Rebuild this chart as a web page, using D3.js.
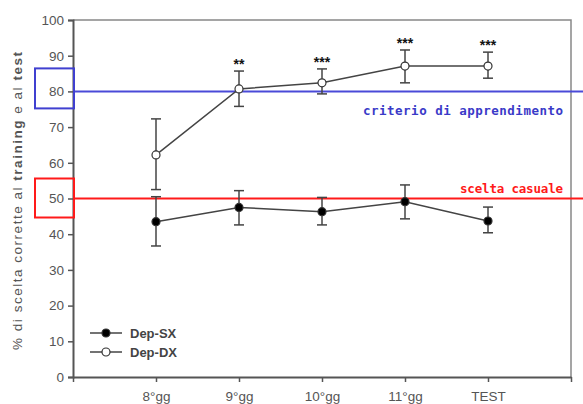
<!DOCTYPE html>
<html>
<head>
<meta charset="utf-8">
<script src="https://cdn.jsdelivr.net/npm/d3@7"></script>
<style>
  body { margin: 0; background: #fff; }
  svg { display: block; font-family: "Liberation Sans", Arial, sans-serif; }
</style>
</head>
<body>
<div id="chart"></div>
<script>
// Categories (x axis)
var days = ["8°gg", "9°gg", "10°gg", "11°gg", "TEST"];

// Dep-SX (filled circles): mean, lower and upper error
var sxMean = [43.5, 47.5, 46.3, 49.1, 43.7];
var sxLow = [36.7, 42.6, 42.6, 44.3, 40.4];
var sxHigh = [50.5, 52.2, 50.3, 53.8, 47.6];

// Dep-DX (open circles)
var dxMean = [62.2, 80.7, 82.4, 87.1, 87.1];
var dxLow = [52.5, 75.8, 79.3, 82.4, 83.7];
var dxHigh = [72.3, 85.7, 86.3, 91.6, 91.0];

// Significance marks
var stars = ["", "**", "***", "***", "***"];

var yTicks = [0, 10, 20, 30, 40, 50, 60, 70, 80, 90, 100];

function init() {
    var w = 583;
    var h = 404;
    var left = 73, right = 571, top = 20, bottom = 377;

    var svg = d3.select("#chart")
        .append("svg")
        .attr("width", w)
        .attr("height", h);

    var xScale = d3.scaleLinear()
        .domain([0, days.length + 1])
        .range([left, right]);

    var yScale = d3.scaleLinear()
        .domain([0, 100])
        .range([bottom, top]);

    var axisColor = "#555";

    // frame top / right
    svg.append("path")
        .attr("d", `M${left},${top}H${right}V${bottom}`)
        .attr("fill", "none")
        .attr("stroke", "#888")
        .attr("stroke-width", 1.5);

    // Y axis
    var yAxis = d3.axisLeft(yScale)
        .tickValues(yTicks)
        .tickSize(5)
        .tickPadding(4);

    var gy = svg.append("g")
        .attr("transform", `translate(${left}, 0)`)
        .call(yAxis);
    gy.select(".domain").attr("stroke", axisColor).attr("stroke-width", 2);
    gy.selectAll(".tick line").attr("stroke", axisColor).attr("stroke-width", 1.5);
    gy.selectAll(".tick text")
        .attr("fill", "#555")
        .style("font-size", "13.5px");

    // X axis
    var xAxis = d3.axisBottom(xScale)
        .tickValues(d3.range(0, days.length + 2))
        .tickFormat(i => (i >= 1 && i <= days.length) ? days[i - 1] : "")
        .tickSize(5)
        .tickSizeOuter(0)
        .tickPadding(9);

    var gx = svg.append("g")
        .attr("transform", `translate(0, ${bottom})`)
        .call(xAxis);
    gx.select(".domain").attr("stroke", axisColor).attr("stroke-width", 2);
    gx.selectAll(".tick line").attr("stroke", axisColor).attr("stroke-width", 1.5);
    gx.selectAll(".tick text")
        .attr("fill", "#555")
        .style("font-size", "13.5px");

    // Reference lines
    svg.append("line")
        .attr("x1", left).attr("x2", w)
        .attr("y1", yScale(80)).attr("y2", yScale(80))
        .attr("stroke", "#4a4ad8").attr("stroke-width", 2);

    svg.append("line")
        .attr("x1", left).attr("x2", w)
        .attr("y1", yScale(50)).attr("y2", yScale(50))
        .attr("stroke", "#ff1a1a").attr("stroke-width", 2);

    // Boxes around 80 and 50 tick labels
    svg.append("rect")
        .attr("x", 35).attr("y", yScale(80) - 23)
        .attr("width", 39).attr("height", 40)
        .attr("fill", "none").attr("stroke", "#4040d0").attr("stroke-width", 2);

    svg.append("rect")
        .attr("x", 35).attr("y", yScale(50) - 20)
        .attr("width", 39).attr("height", 39)
        .attr("fill", "none").attr("stroke", "#ff1a1a").attr("stroke-width", 2);

    svg.append("text")
        .attr("x", 563).attr("y", yScale(80) + 24)
        .attr("text-anchor", "end")
        .attr("fill", "#3a3ac8")
        .style("font-family", "'DejaVu Sans Mono', monospace")
        .style("font-size", "12.5px")
        .style("font-weight", "bold")
        .attr("textLength", 200)
        .text("criterio di apprendimento");

    svg.append("text")
        .attr("x", 563).attr("y", yScale(50) - 6)
        .attr("text-anchor", "end")
        .attr("fill", "#ff1a1a")
        .style("font-family", "'DejaVu Sans Mono', monospace")
        .style("font-size", "12.5px")
        .style("font-weight", "bold")
        .attr("textLength", 103)
        .text("scelta casuale");

    // Series
    var series = [
        { name: "Dep-SX", mean: sxMean, low: sxLow, high: sxHigh, fill: "#000" },
        { name: "Dep-DX", mean: dxMean, low: dxLow, high: dxHigh, fill: "#fff" }
    ];

    var line = d3.line()
        .x((d, i) => xScale(i + 1))
        .y(d => yScale(d));

    series.forEach(s => {
        var g = svg.append("g");

        // error bars
        s.mean.forEach((m, i) => {
            var x = xScale(i + 1);
            g.append("line")
                .attr("x1", x).attr("x2", x)
                .attr("y1", yScale(s.low[i])).attr("y2", yScale(s.high[i]))
                .attr("stroke", "#444").attr("stroke-width", 1.5);
            [s.low[i], s.high[i]].forEach(v => {
                g.append("line")
                    .attr("x1", x - 5).attr("x2", x + 5)
                    .attr("y1", yScale(v)).attr("y2", yScale(v))
                    .attr("stroke", "#444").attr("stroke-width", 1.5);
            });
        });

        g.append("path")
            .datum(s.mean)
            .attr("d", line)
            .attr("fill", "none")
            .attr("stroke", "#444")
            .attr("stroke-width", 1.5);

        g.selectAll("circle")
            .data(s.mean)
            .enter()
            .append("circle")
            .attr("cx", (d, i) => xScale(i + 1))
            .attr("cy", d => yScale(d))
            .attr("r", 4)
            .attr("fill", s.fill)
            .attr("stroke", "#333")
            .attr("stroke-width", 1.2);
    });

    // Significance stars
    svg.selectAll(".star")
        .data(stars)
        .enter()
        .append("text")
        .attr("class", "star")
        .attr("x", (d, i) => xScale(i + 1))
        .attr("y", (d, i) => yScale(dxHigh[i]) - 2)
        .attr("text-anchor", "middle")
        .style("font-size", "14px")
        .style("font-weight", "bold")
        .attr("fill", "#111")
        .text(d => d);

    // Legend
    var legend = svg.append("g");
    series.forEach((s, i) => {
        var y = 333 + i * 19;
        legend.append("line")
            .attr("x1", 90).attr("x2", 122)
            .attr("y1", y).attr("y2", y)
            .attr("stroke", "#444").attr("stroke-width", 1.5);
        legend.append("circle")
            .attr("cx", 106).attr("cy", y).attr("r", 4)
            .attr("fill", s.fill).attr("stroke", "#333").attr("stroke-width", 1.2);
        legend.append("text")
            .attr("x", 130).attr("y", y + 5)
            .style("font-size", "13px")
            .style("font-weight", "bold")
            .attr("fill", "#444")
            .text(s.name);
    });

    // Y axis label
    var ylab = svg.append("text")
        .attr("transform", "translate(22, 201) rotate(-90)")
        .attr("text-anchor", "middle")
        .style("font-size", "13.5px")
        .attr("fill", "#555")
        .attr("textLength", 298);
    ylab.append("tspan").text("% di scelta corrette al ");
    ylab.append("tspan").style("font-weight", "bold").text("training");
    ylab.append("tspan").text(" e al ");
    ylab.append("tspan").style("font-weight", "bold").text("test");
}

window.onload = init;
</script>
</body>
</html>
